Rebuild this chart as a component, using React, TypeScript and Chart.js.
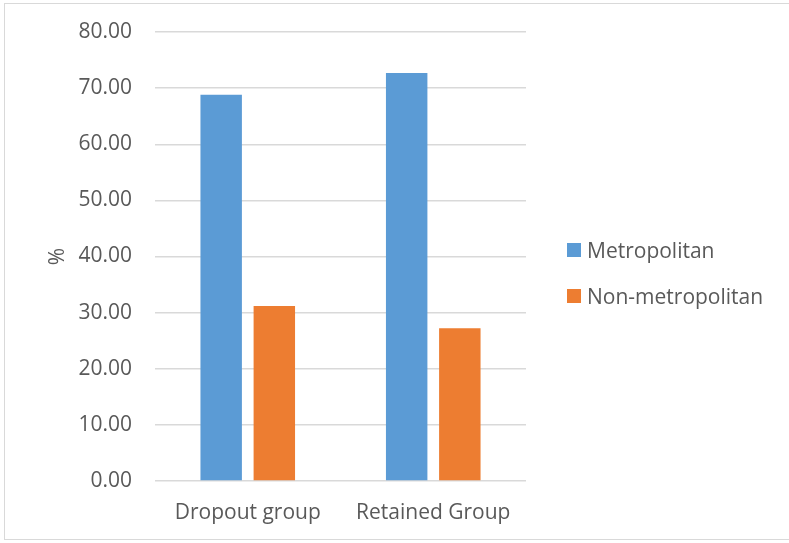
import React, { useEffect, useRef } from "react";
import { Chart, registerables } from "chart.js";

Chart.register(...registerables);

const categories = ["Dropout group", "Retained Group"];
const seriesNames = ["Metropolitan", "Non-metropolitan"];
const metropolitan = [68.8, 72.7];
const nonMetropolitan = [31.2, 27.2];
const seriesColors = ["#5B9BD5", "#ED7D31"];
const yTicks = [0, 10, 20, 30, 40, 50, 60, 70, 80];

const FONT = "'Open Sans', 'DejaVu Sans', sans-serif";
const TEXT = "#595959";
const GRID = "#D9D9D9";

// Pins the plot rectangle so the value axis runs from y=32 (80) to y=481 (0).
const plotFrame = {
  id: "plotFrame",
  afterLayout(chart: any) {
    const area = chart.chartArea;
    area.top = 32;
    area.bottom = 481;
    area.height = area.bottom - area.top;
    const y = chart.scales.y;
    y.top = 32;
    y.bottom = 481;
    y.height = 449;
    y.configure();
    y.generateTickLabels(y.ticks);
  },
};

export default function App() {
  const canvasRef = useRef<HTMLCanvasElement | null>(null);

  useEffect(() => {
    if (!canvasRef.current) return;
    const chart = new Chart(canvasRef.current, {
      type: "bar",
      data: {
        labels: categories,
        datasets: [
          {
            label: seriesNames[0],
            data: metropolitan,
            backgroundColor: seriesColors[0],
            categoryPercentage: 0.573,
            barPercentage: 0.78,
          },
          {
            label: seriesNames[1],
            data: nonMetropolitan,
            backgroundColor: seriesColors[1],
            categoryPercentage: 0.573,
            barPercentage: 0.78,
          },
        ],
      },
      options: {
        responsive: false,
        animation: false,
        layout: { padding: { top: 32, right: 263, bottom: 0, left: 0 } },
        plugins: {
          legend: { display: false },
          tooltip: { enabled: false },
        },
        scales: {
          x: {
            grid: { display: false, drawTicks: false },
            border: { display: false },
            ticks: {
              color: TEXT,
              padding: 19,
              font: { family: FONT, size: 21 },
            },
            afterFit: (scale: any) => {
              scale.height = 62;
            },
          },
          y: {
            min: yTicks[0],
            max: yTicks[yTicks.length - 1],
            afterBuildTicks: (scale: any) => {
              scale.ticks = yTicks.map((v) => ({ value: v }));
            },
            grid: { color: GRID, lineWidth: 1.5, drawTicks: false },
            border: { display: false },
            ticks: {
              color: TEXT,
              padding: 23,
              font: { family: FONT, size: 21 },
              callback: (v: any) => Number(v).toFixed(2),
            },
            title: {
              display: true,
              text: "%",
              color: TEXT,
              padding: { top: 45, bottom: 0 },
              font: { family: FONT, size: 21 },
            },
            afterFit: (scale: any) => {
              scale.width = 155;
            },
          },
        },
      },
      plugins: [plotFrame],
    });
    return () => chart.destroy();
  }, []);

  return (
    <div
      style={{
        position: "fixed",
        left: 0,
        top: 0,
        width: 789,
        height: 543,
        overflow: "hidden",
        background: "#FFFFFF",
      }}
    >
      <div
        style={{
          position: "absolute",
          left: 4,
          top: 3,
          width: 820,
          height: 537,
          border: `1px solid ${GRID}`,
          boxSizing: "border-box",
        }}
      />
      <canvas
        ref={canvasRef}
        width={789}
        height={543}
        style={{ position: "absolute", left: 0, top: 0 }}
      />
      {seriesNames.map((name, i) => (
        <div
          key={name}
          style={{
            position: "absolute",
            left: 567,
            top: 236 + i * 46,
            height: 28,
            display: "flex",
            alignItems: "center",
            fontFamily: FONT,
            fontSize: 21,
            color: TEXT,
            whiteSpace: "nowrap",
          }}
        >
          <span
            style={{
              display: "inline-block",
              width: 14,
              height: 14,
              background: seriesColors[i],
              marginRight: 6,
            }}
          />
          {name}
        </div>
      ))}
    </div>
  );
}
